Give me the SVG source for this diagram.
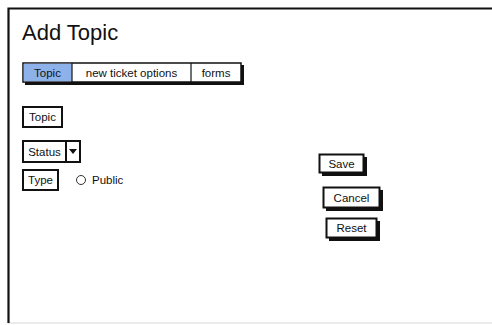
<svg xmlns="http://www.w3.org/2000/svg" width="492" height="325" viewBox="0 0 492 325">
  <style>
    text { font-family: "Liberation Sans", Arial, sans-serif; fill: #111; }
    .lbl { font-size: 11.5px; }
    .box { fill: #fff; stroke: #111; stroke-width: 2; }
    .shadow { fill: #111; }
  </style>
  <rect width="492" height="325" fill="#fff"/>

  <!-- window frame -->
  <g id="window">
    <line x1="8" y1="323" x2="492" y2="323" stroke="#e4e4e4" stroke-width="1.5"/>
    <path d="M8.5 323 L8.5 8.5 L492 8.5" fill="none" stroke="#111" stroke-width="2.2"/>
    <text x="22" y="40" font-size="22">Add Topic</text>
  </g>

  <!-- tab bar -->
  <g id="tabs">
    <rect class="shadow" x="25" y="65" width="219" height="20"/>
    <rect x="23" y="63" width="218" height="19" fill="#fff" stroke="#111" stroke-width="1.5"/>
    <rect x="23.8" y="63.8" width="48" height="17.4" fill="#8db2ea"/>
    <line x1="72" y1="63" x2="72" y2="82" stroke="#111" stroke-width="1.2"/>
    <line x1="191" y1="63" x2="191" y2="82" stroke="#111" stroke-width="1.2"/>
    <text class="lbl" x="47.5" y="76.5" text-anchor="middle">Topic</text>
    <text class="lbl" x="131.5" y="76.5" text-anchor="middle">new ticket options</text>
    <text class="lbl" x="216" y="76.5" text-anchor="middle">forms</text>
  </g>

  <g id="topic-label">
    <rect class="box" x="23" y="107" width="39" height="20"/>
    <text class="lbl" x="42.5" y="121" text-anchor="middle">Topic</text>
  </g>

  <g id="status-select">
    <rect class="box" x="23" y="141" width="43" height="21"/>
    <rect class="box" x="66" y="141" width="14" height="21"/>
    <path d="M69 149 L77 149 L73 154 Z" fill="#111"/>
    <text class="lbl" x="44.5" y="155.5" text-anchor="middle">Status</text>
  </g>

  <g id="type-label">
    <rect class="box" x="23" y="170" width="35" height="20"/>
    <text class="lbl" x="40.5" y="184" text-anchor="middle">Type</text>
  </g>

  <g id="public-radio">
    <circle cx="81" cy="180" r="4.5" fill="#fff" stroke="#333" stroke-width="1"/>
    <text class="lbl" x="92" y="184">Public</text>
  </g>

  <g id="save-button">
    <rect class="shadow" x="322" y="157" width="45" height="19"/>
    <rect class="box" x="319.5" y="154.5" width="44" height="18"/>
    <text class="lbl" x="341.5" y="167.5" text-anchor="middle">Save</text>
  </g>

  <g id="cancel-button">
    <rect class="shadow" x="326" y="190" width="57" height="21"/>
    <rect class="box" x="323.5" y="187.5" width="56" height="20"/>
    <text class="lbl" x="351.5" y="201.5" text-anchor="middle">Cancel</text>
  </g>

  <g id="reset-button">
    <rect class="shadow" x="329" y="221" width="51" height="20"/>
    <rect class="box" x="326.5" y="218.5" width="50" height="19"/>
    <text class="lbl" x="351.5" y="232" text-anchor="middle">Reset</text>
  </g>
</svg>
